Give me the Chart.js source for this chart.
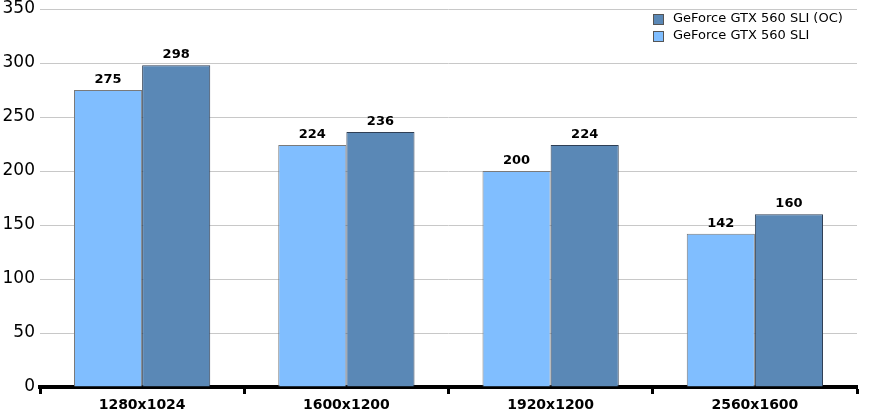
<!DOCTYPE html>
<html>
<head>
<meta charset="utf-8">
<script src="https://cdn.jsdelivr.net/npm/chart.js@4"></script>
<style>
  html, body { margin: 0; padding: 0; background: #fff; }
  #wrap { width: 871px; height: 415px; }
</style>
</head>
<body>
<div id="wrap"><canvas id="chart" width="871" height="415"></canvas></div>
<script>
const categories = ['1280x1024', '1600x1200', '1920x1200', '2560x1600'];
const sliValues = [275, 224, 200, 142];
const ocValues = [298, 236, 224, 160];
const seriesNames = ['GeForce GTX 560 SLI', 'GeForce GTX 560 SLI (OC)'];
const yTicks = [0, 50, 100, 150, 200, 250, 300, 350];

const lightColor = '#80BEFF';
const darkColor = '#5A88B6';

// value labels above each bar
const valueLabels = {
    id: 'valueLabels',
    afterDatasetsDraw(chart) {
        const ctx = chart.ctx;
        ctx.save();
        ctx.font = 'bold 13px "DejaVu Sans", Verdana, sans-serif';
        ctx.fillStyle = '#000';
        ctx.textAlign = 'center';
        ctx.textBaseline = 'bottom';
        chart.data.datasets.forEach(function (ds, i) {
            chart.getDatasetMeta(i).data.forEach(function (bar, j) {
                ctx.fillText(ds.data[j], bar.x, bar.y - 4);
            });
        });
        ctx.restore();
    }
};

// legend in the top right corner, last series first
const cornerLegend = {
    id: 'cornerLegend',
    afterDraw(chart) {
        const ctx = chart.ctx;
        const x = chart.chartArea.right - 204;
        let y = chart.chartArea.top + 5;
        ctx.save();
        ctx.font = '13px "DejaVu Sans", Verdana, sans-serif';
        ctx.textBaseline = 'middle';
        const items = chart.data.datasets.slice().reverse();
        items.forEach(function (ds) {
            ctx.fillStyle = ds.backgroundColor;
            ctx.fillRect(x, y, 10, 10);
            ctx.strokeStyle = '#555';
            ctx.lineWidth = 1;
            ctx.strokeRect(x + 0.5, y + 0.5, 10, 10);
            ctx.fillStyle = '#000';
            ctx.fillText(ds.label, x + 20, y + 5);
            y += 17;
        });
        ctx.restore();
    }
};

new Chart(document.getElementById('chart').getContext('2d'), {
    type: 'bar',
    data: {
        labels: categories,
        datasets: [
            {
                label: seriesNames[0],
                data: sliValues,
                backgroundColor: lightColor,
                borderColor: '#7a7a7a',
                borderWidth: 1,
                categoryPercentage: 0.667,
                barPercentage: 1.0
            },
            {
                label: seriesNames[1],
                data: ocValues,
                backgroundColor: darkColor,
                borderColor: '#2f3f55',
                borderWidth: 1,
                categoryPercentage: 0.667,
                barPercentage: 1.0
            }
        ]
    },
    options: {
        responsive: false,
        animation: false,
        layout: { padding: { top: 9, right: 14, left: 0, bottom: 0 } },
        plugins: {
            legend: { display: false },
            tooltip: { enabled: false }
        },
        scales: {
            x: {
                grid: {
                    offset: true,
                    drawOnChartArea: false,
                    drawTicks: true,
                    tickLength: 7,
                    tickColor: '#000',
                    tickWidth: 3
                },
                border: { display: true, color: '#000', width: 4 },
                ticks: {
                    color: '#000',
                    font: { family: '"DejaVu Sans", Verdana, sans-serif', size: 14, weight: 'bold' },
                    padding: 3,
                    maxRotation: 0
                },
                afterFit(scale) { scale.height = 28; }
            },
            y: {
                min: 0,
                max: 350,
                afterBuildTicks(scale) { scale.ticks = yTicks.map(v => ({ value: v })); },
                grid: { color: '#c8c8c8', lineWidth: 1, drawTicks: false },
                border: { display: false },
                ticks: {
                    color: '#000',
                    padding: 5,
                    font: { family: '"DejaVu Sans", Verdana, sans-serif', size: 17 }
                },
                afterFit(scale) {
                    scale.width = 40;
                    scale.paddingTop = 0;
                    scale.paddingBottom = 0;
                }
            }
        }
    },
    plugins: [valueLabels, cornerLegend]
});
</script>
</body>
</html>
